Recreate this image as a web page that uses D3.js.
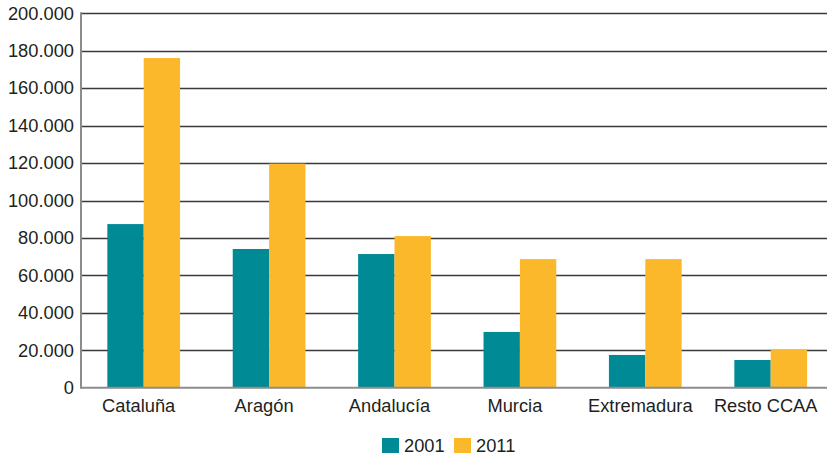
<!DOCTYPE html>
<html>
<head>
<meta charset="utf-8">
<script src="https://cdn.jsdelivr.net/npm/d3@7"></script>
<style>
  body { margin: 0; background: #fff; }
  text { font-family: "Liberation Sans", Arial, sans-serif; fill: #231f20; }
</style>
</head>
<body>
<svg id="chart" width="827" height="454"></svg>
<script>
const categories = ["Cataluña", "Aragón", "Andalucía", "Murcia", "Extremadura", "Resto CCAA"];
const years = ["2001", "2011"];
const values2001 = [87400, 74100, 71400, 29800, 17500, 14800];
const values2011 = [176100, 119700, 81000, 68700, 68700, 20500];
const yTicks = [0, 20000, 40000, 60000, 80000, 100000, 120000, 140000, 160000, 180000, 200000];
const colors = ["#008a96", "#fbb82a"];

const data = categories.map((c, i) => ({cat: c, vals: [values2001[i], values2011[i]]}));

const svg = d3.select("#chart");
const mLeft = 81, mTop = 13.3, mBottom = 387.7;
const band = 125.4;
const fs = 18.3;

const x = d3.scaleBand()
  .domain(categories)
  .range([mLeft, mLeft + band * categories.length])
  .paddingInner(0.42).paddingOuter(0.21);

const xSub = d3.scaleBand()
  .domain(years)
  .range([0, x.bandwidth()]);

const y = d3.scaleLinear().domain([0, 200000]).range([mBottom, mTop]);

const fmt = d => d === 0 ? "0" : d3.format(",")(d).replace(/,/g, ".");

// gridlines
svg.append("g")
  .selectAll("line")
  .data(yTicks.filter(d => d > 0))
  .join("line")
    .attr("x1", mLeft).attr("x2", 827)
    .attr("y1", d => Math.round(y(d)) + 0.5)
    .attr("y2", d => Math.round(y(d)) + 0.5)
    .attr("stroke", "#3a3a3a")
    .attr("stroke-width", 1.3);

// bars
const grp = svg.append("g")
  .selectAll("g")
  .data(data)
  .join("g")
    .attr("transform", d => `translate(${x(d.cat)},0)`);

grp.selectAll("rect")
  .data(d => d.vals.map((v, i) => ({year: years[i], v, i})))
  .join("rect")
    .attr("x", d => xSub(d.year))
    .attr("width", xSub.bandwidth())
    .attr("y", d => y(d.v))
    .attr("height", d => y(0) - y(d.v))
    .attr("fill", d => colors[d.i]);

// axes lines
svg.append("line")
  .attr("x1", mLeft).attr("x2", mLeft)
  .attr("y1", mTop - 1).attr("y2", mBottom + 1)
  .attr("stroke", "#8c8c8c").attr("stroke-width", 2);
svg.append("line")
  .attr("x1", mLeft).attr("x2", 827)
  .attr("y1", mBottom).attr("y2", mBottom)
  .attr("stroke", "#8c8c8c").attr("stroke-width", 2);

// y labels
svg.append("g")
  .selectAll("text")
  .data(yTicks)
  .join("text")
    .attr("x", mLeft - 7)
    .attr("y", d => y(d) + 6.3)
    .attr("text-anchor", "end")
    .attr("font-size", fs)
    .text(fmt);

// x labels
svg.append("g")
  .selectAll("text")
  .data(categories)
  .join("text")
    .attr("x", d => x(d) + x.bandwidth() / 2 - 5)
    .attr("y", 411.5)
    .attr("text-anchor", "middle")
    .attr("font-size", fs)
    .text(d => d);

// legend
const legend = svg.append("g")
  .selectAll("g")
  .data(years)
  .join("g")
    .attr("transform", (d, i) => `translate(${382 + i * 72},438)`);
legend.append("rect")
  .attr("width", 17).attr("height", 15)
  .attr("fill", (d, i) => colors[i]);
legend.append("text")
  .attr("x", 22).attr("y", 13.5)
  .attr("font-size", fs)
  .text(d => d);
</script>
</body>
</html>
